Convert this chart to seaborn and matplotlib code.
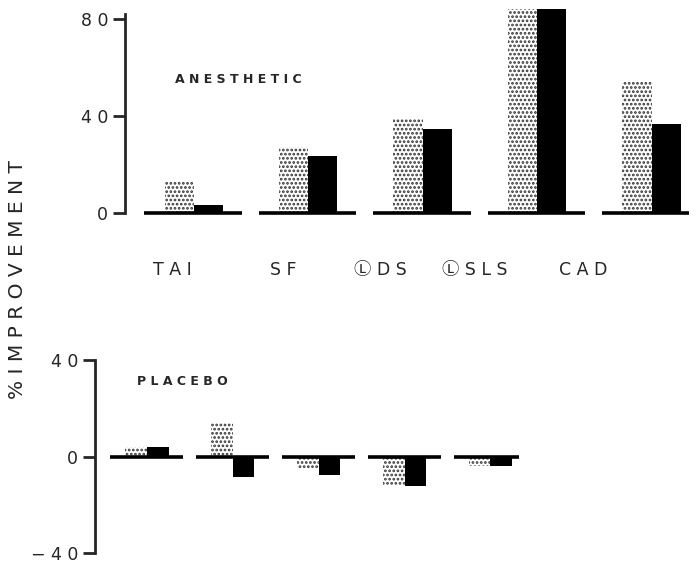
import matplotlib
matplotlib.use("Agg")
import matplotlib.pyplot as plt
import pandas as pd
import seaborn as sns

# categorias e valores
testes = ["TAI", "SF", "DS", "SLS", "CAD"]
rotulos = ["T A I", "S F", "Ⓛ D S", "Ⓛ S L S", "C A D"]
series = ["stippled", "black"]

anestesico_stippled = [13, 27, 39, 84, 54]
anestesico_black = [3, 23.5, 34.5, 84, 36.5]
placebo_stippled = [4, 14, -4.5, -12, -4]
placebo_black = [4, -8.5, -7.5, -12, -4]


def monta_df(a, b):
    return pd.DataFrame({
        "teste": testes * 2,
        "serie": [series[0]] * len(testes) + [series[1]] * len(testes),
        "valor": list(a) + list(b),
    })


def desenha(ax, df, ylim, ticks, ticklabels, bounds, titulo, titulo_xy):
    sns.barplot(data=df, x="teste", y="valor", hue="serie", order=testes,
                hue_order=series, width=0.51, dodge=True, legend=False,
                palette=["white", "black"], ax=ax, errorbar=None)
    n = len(testes)
    for i, p in enumerate(ax.patches):
        if i < n:
            p.set_facecolor("white")
            p.set_hatch("....")
            p.set_edgecolor("#333333")
            p.set_linewidth(0)
        else:
            p.set_facecolor("black")
            p.set_edgecolor("black")
            p.set_linewidth(0)
    # linha de base de cada grupo
    ax.hlines([0] * n, [i - 0.43 for i in range(n)], [i + 0.42 for i in range(n)],
              color="black", linewidth=2.6, zorder=5)
    ax.set_xlim(-0.6, 4.33)
    ax.set_ylim(*ylim)
    ax.set_yticks(ticks)
    ax.set_yticklabels(ticklabels, fontsize=12.5)
    ax.tick_params(axis="y", left=True, length=9, width=2, pad=3)
    ax.set_xticks([])
    ax.set_xlabel("")
    ax.set_ylabel("")
    for s in ["top", "right", "bottom"]:
        ax.spines[s].set_visible(False)
    ax.spines["left"].set_linewidth(2)
    ax.spines["left"].set_bounds(*bounds)
    ax.text(titulo_xy[0], titulo_xy[1], titulo, transform=ax.transAxes,
            fontsize=9, fontweight="semibold", ha="center", va="center")


sns.set_style("white")
plt.rcParams["font.family"] = ["DejaVu Sans", "Noto Sans CJK JP"]
plt.rcParams["hatch.linewidth"] = 1.3

fig = plt.figure(figsize=(6.96, 5.64), dpi=100)
ax1 = fig.add_axes([0.1796, 0.610, 0.811, 0.383])
ax2 = fig.add_axes([0.1365, 0.0106, 0.609, 0.359])

desenha(ax1, monta_df(anestesico_stippled, anestesico_black), (-3, 86),
        [0, 40, 80], ["0", "4 0", "8 0"], (0, 82),
        "A N E S T H E T I C", (0.20, 0.65))
desenha(ax2, monta_df(placebo_stippled, placebo_black), (-42, 42),
        [-40, 0, 40], ["− 4 0", "0", "4 0"], (-40, 40),
        "P L A C E B O", (0.205, 0.87))

# rotulos das categorias entre os paineis
xs = [172, 283, 380, 475, 583]
for x, r in zip(xs, rotulos):
    fig.text(x / 696, 1 - 270 / 564, r, fontsize=12.5, ha="center", va="center")

fig.text(0.025, 0.505, "% I M P R O V E M E N T", rotation=90, fontsize=14.5,
         ha="center", va="center")

fig.savefig("out.png", dpi=100)
